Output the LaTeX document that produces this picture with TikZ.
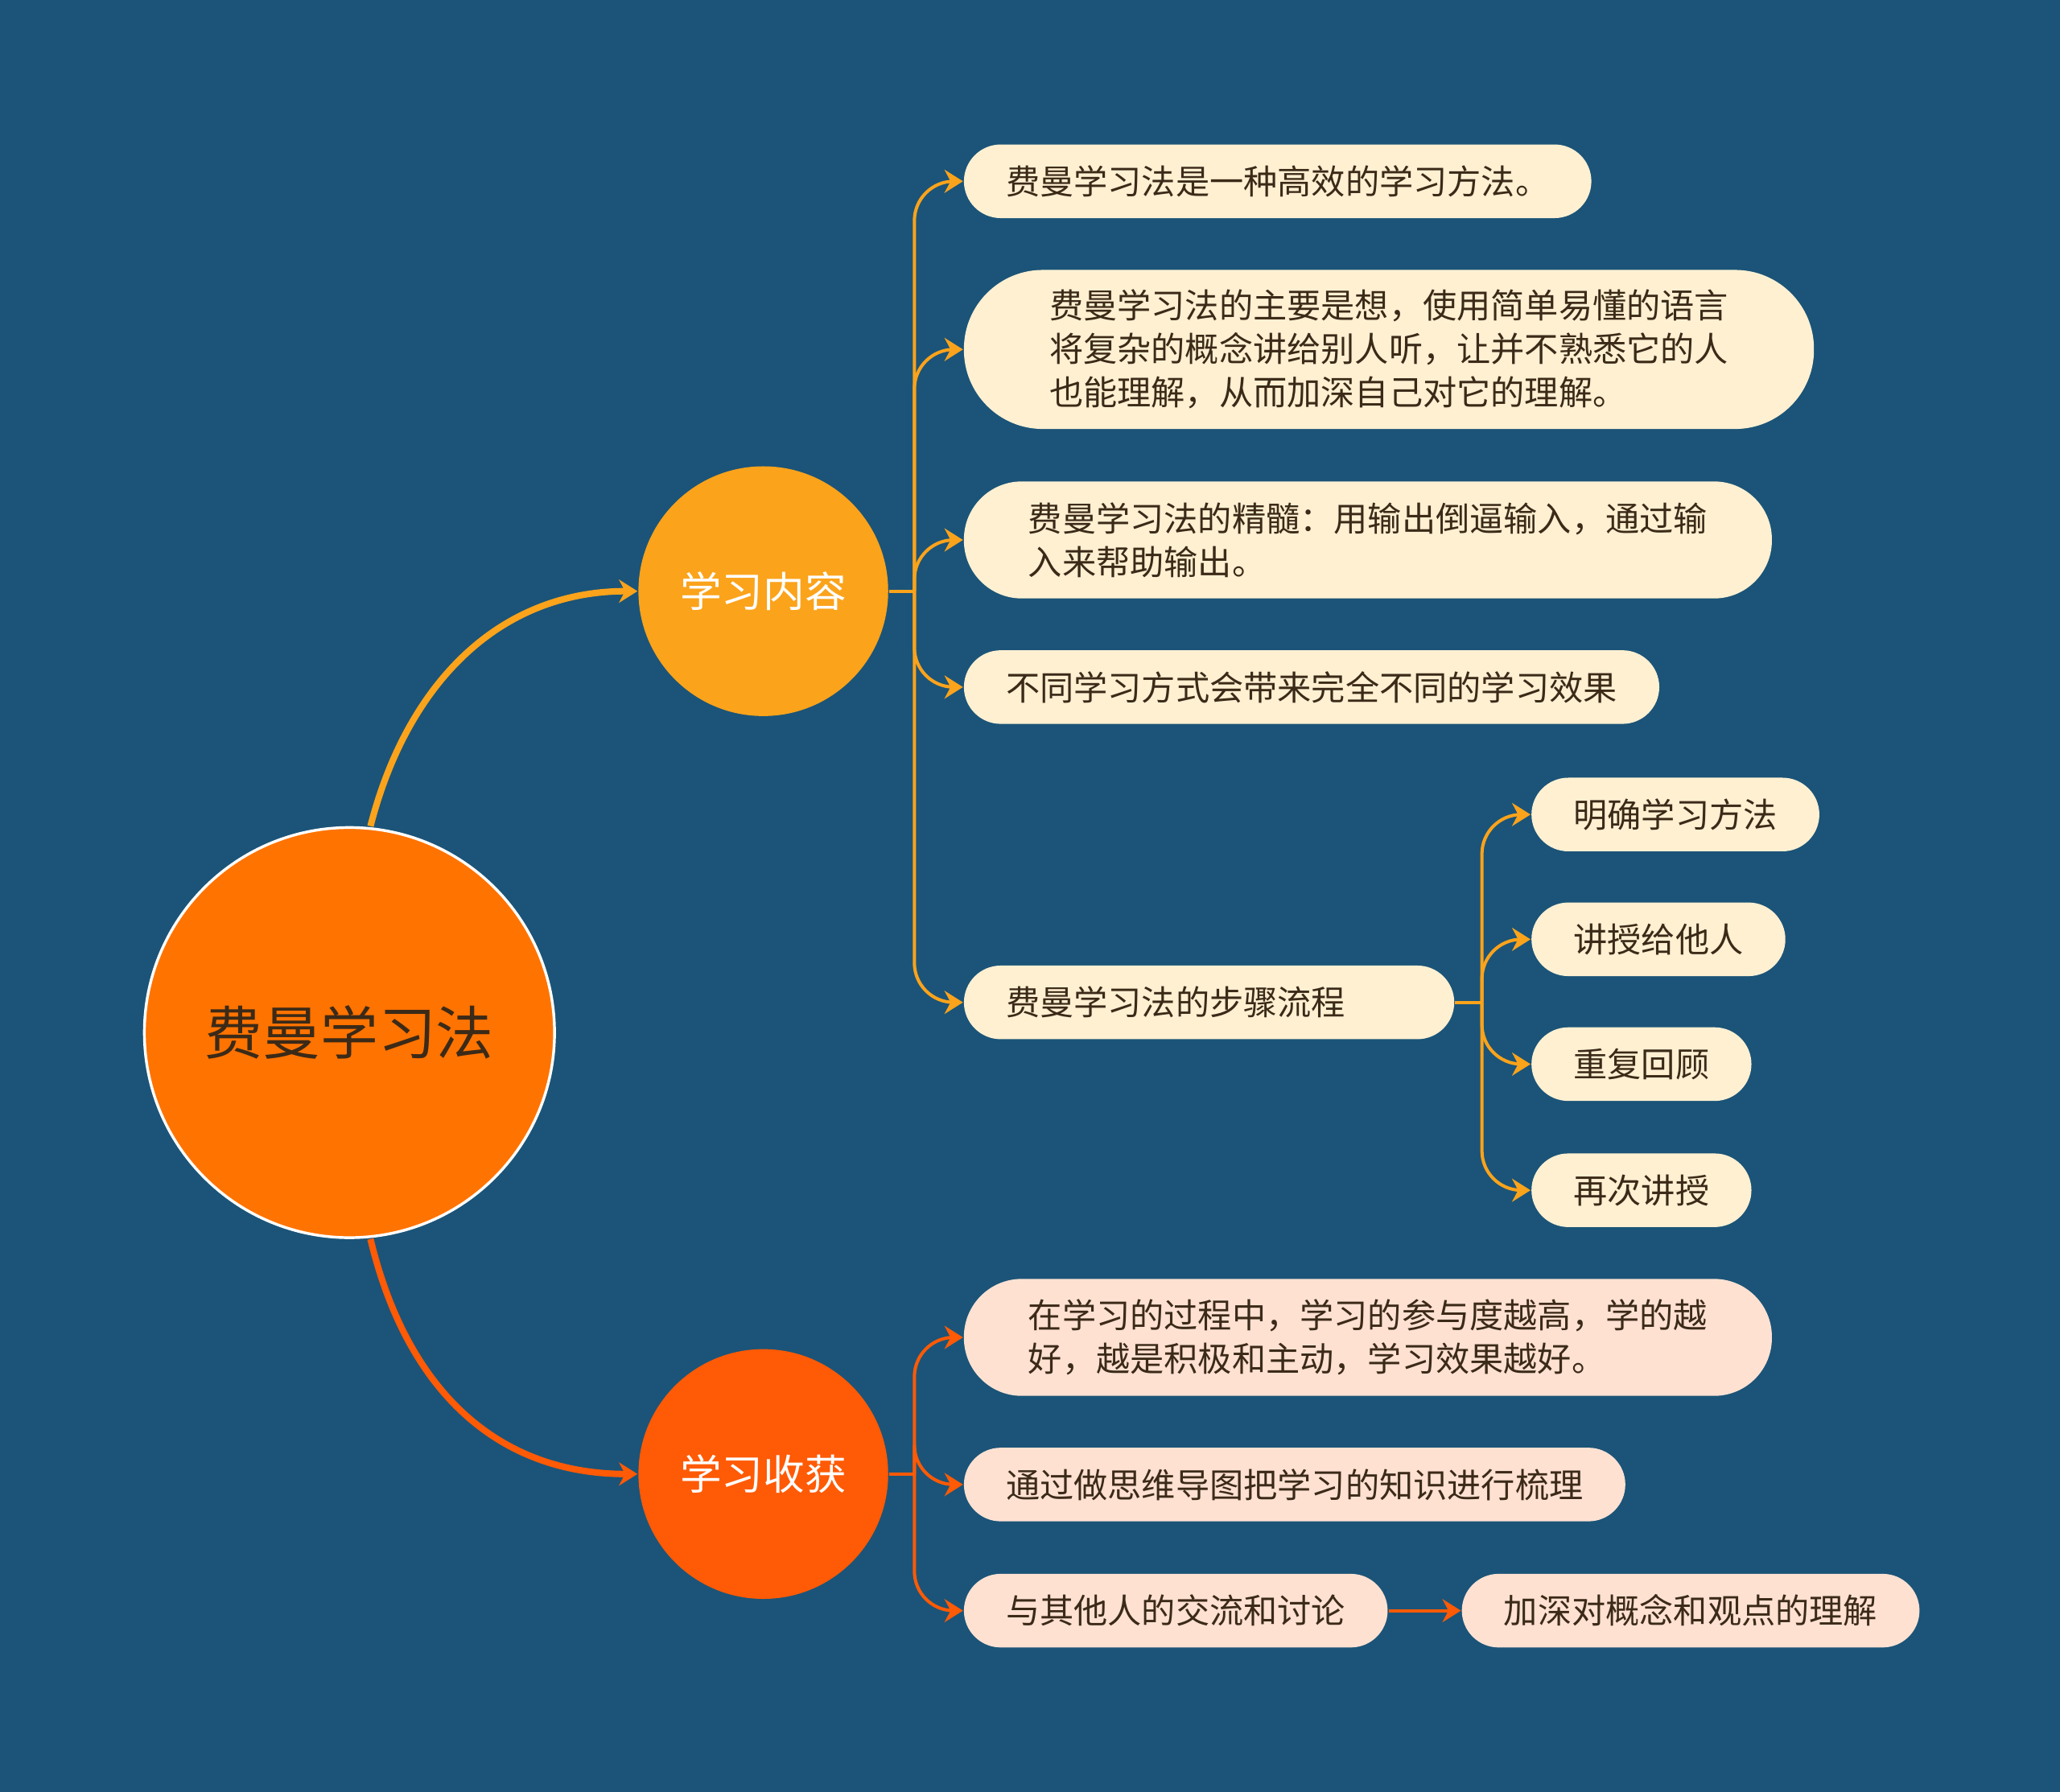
\documentclass[tikz,border=0pt]{standalone}
\usepackage{fontspec}
\setmainfont{Noto Sans CJK SC}
\usetikzlibrary{arrows.meta,positioning}
\definecolor{bgblue}{HTML}{1B5478}
\definecolor{rootor}{HTML}{FF7300}
\definecolor{upor}{HTML}{FBA31B}
\definecolor{lowor}{HTML}{FF5A05}
\definecolor{creamup}{HTML}{FFF0D2}
\definecolor{creamlow}{HTML}{FFE1D2}
\definecolor{inktxt}{HTML}{3B2A18}
\tikzset{
  leaf/.style={rectangle, rounded corners=#1, fill=creamup, text=inktxt, anchor=west,
    minimum height=0.56cm, inner xsep=0.32cm, align=left, font=\fontsize{7.35pt}{9.4pt}\selectfont},
  leaf/.default=0.28cm,
  lowleaf/.style={leaf=#1, fill=creamlow},
  lowleaf/.default=0.28cm,
  upline/.style={draw=upor, line width=0.7pt, rounded corners=0.3cm, -{Stealth[length=4pt,width=5pt]}},
  lowline/.style={upline, draw=lowor}
}
\begin{document}
\begin{tikzpicture}[x=0.01cm, y=-0.01cm]
\fill[bgblue] (0,0) rectangle (1568,1364);
% circles
\node[circle, fill=rootor, draw=white, line width=0.6pt, minimum size=3.12cm, text=inktxt,
  font=\fontsize{12.5pt}{14pt}\selectfont] (root) at (266,786) {费曼学习法};
\node[circle, fill=upor, minimum size=1.9cm, text=white, font=\fontsize{9pt}{11pt}\selectfont] (study) at (581,450) {学习内容};
\node[circle, fill=lowor, minimum size=1.9cm, text=white, font=\fontsize{9pt}{11pt}\selectfont] (gain) at (581,1122) {学习收获};
% upper leaves
\node[leaf] (u1) at (733,138) {费曼学习法是一种高效的学习方法。};
\node[leaf=0.6cm, minimum height=1.21cm, inner xsep=0.65cm] (u2) at (733,266) {费曼学习法的主要是想，使用简单易懂的语言\\将复杂的概念讲给别人听，让并不熟悉它的人\\也能理解，从而加深自己对它的理解。};
\node[leaf=0.44cm, minimum height=0.89cm, inner xsep=0.49cm] (u3) at (733,411) {费曼学习法的精髓：用输出倒逼输入，通过输\\入来帮助输出。};
\node[leaf] (u4) at (733,523) {不同学习方式会带来完全不同的学习效果};
\node[leaf, text width=3.09cm] (u5) at (733,763) {费曼学习法的步骤流程};
\node[leaf] (s1) at (1165,620) {明确学习方法};
\node[leaf] (s2) at (1165,715) {讲授给他人};
\node[leaf] (s3) at (1165,810) {重复回顾};
\node[leaf] (s4) at (1165,906) {再次讲授};
% lower leaves
\node[lowleaf=0.44cm, minimum height=0.89cm, inner xsep=0.49cm] (l1) at (733,1018) {在学习的过程中，学习的参与度越高，学的越\\好，越是积极和主动，学习效果越好。};
\node[lowleaf] (l2) at (733,1130) {通过做思维导图把学习的知识进行梳理};
\node[lowleaf] (l3) at (733,1226) {与其他人的交流和讨论};
\node[lowleaf] (l4) at (1112,1226) {加深对概念和观点的理解};
% root links
\draw[upline, line width=1.4pt, rounded corners=0pt] (root.north) ++(16,0) .. controls (310,520) and (380,450) .. (study.west);
\draw[lowline, line width=1.4pt, rounded corners=0pt] (root.south) ++(16,0) .. controls (310,1060) and (380,1122) .. (gain.west);
% branches
\coordinate (sj) at (696,450);
\coordinate (gj) at (696,1122);
\coordinate (pj) at (1128,763);
\draw[draw=upor, line width=0.7pt] (study.east) -- (sj);
\foreach \t in {u1,u2,u3,u4,u5} \draw[upline] (sj) |- (\t.west);
\draw[draw=upor, line width=0.7pt] (u5.east) -- (pj);
\foreach \t in {s1,s2,s3,s4} \draw[upline] (pj) |- (\t.west);
\draw[draw=lowor, line width=0.7pt] (gain.east) -- (gj);
\foreach \t in {l1,l2,l3} \draw[lowline] (gj) |- (\t.west);
\draw[lowline] (l3) -- (l4);
\end{tikzpicture}
\end{document}
